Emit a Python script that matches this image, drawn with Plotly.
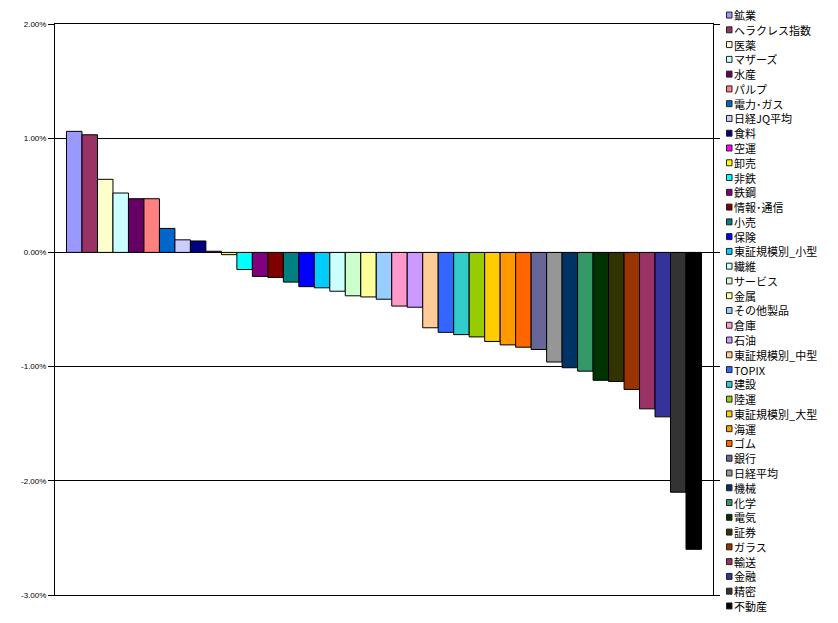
import plotly.graph_objects as go

names = ["鉱業", "ヘラクレス指数", "医薬", "マザーズ", "水産", "パルプ", "電力･ガス", "日経JQ平均",
         "食料", "空運", "卸売", "非鉄", "鉄鋼", "情報･通信", "小売", "保険", "東証規模別_小型",
         "繊維", "サービス", "金属", "その他製品", "倉庫", "石油", "東証規模別_中型", "TOPIX",
         "建設", "陸運", "東証規模別_大型", "海運", "ゴム", "銀行", "日経平均", "機械", "化学",
         "電気", "証券", "ガラス", "輸送", "金融", "精密", "不動産"]

values = [1.06, 1.03, 0.64, 0.52, 0.47, 0.47, 0.21, 0.11, 0.10, 0.01, -0.02, -0.15, -0.21,
          -0.22, -0.26, -0.30, -0.31, -0.34, -0.38, -0.39, -0.41, -0.47, -0.48, -0.66, -0.70,
          -0.72, -0.74, -0.78, -0.81, -0.83, -0.85, -0.96, -1.01, -1.04, -1.12, -1.13, -1.20,
          -1.37, -1.44, -2.10, -2.60]

colors = ["#9999FF", "#993366", "#FFFFCC", "#CCFFFF", "#660066", "#FF8080", "#0066CC", "#CCCCFF",
          "#000080", "#FF00FF", "#FFFF00", "#00FFFF", "#800080", "#800000", "#008080", "#0000FF",
          "#00CCFF", "#CCFFFF", "#CCFFCC", "#FFFF99", "#99CCFF", "#FF99CC", "#CC99FF", "#FFCC99",
          "#3366FF", "#33CCCC", "#99CC00", "#FFCC00", "#FF9900", "#FF6600", "#666699", "#969696",
          "#003366", "#339966", "#003300", "#333300", "#993300", "#993366", "#333399", "#333333",
          "#000000"]

tick_vals = [2, 1, 0, -1, -2, -3]
tick_text = ["2.00%", "1.00%", "0.00%", "-1.00%", "-2.00%", "-3.00%"]

OFF = 8  # page body margin
W, H = 838 - OFF, 623 - OFF
L, R, T, B = 55 - OFF, 713 - OFF, 21 - OFF, 595 - OFF

fig = go.Figure()
for n, v, c in zip(names, values, colors):
    fig.add_trace(go.Bar(x=[""], y=[v], name=n, marker=dict(color=c, line=dict(color="black", width=1)),
                         showlegend=False))

def px_x(p):
    return (p - OFF - L) / (R - L)

def px_y(p):
    return (B - (p - OFF)) / (B - T)

shapes = []
annotations = []
for i, (n, c) in enumerate(zip(names, colors)):
    cy = 12 + i * 14.85
    shapes.append(dict(type="rect", xref="paper", yref="paper",
                       x0=px_x(726.5), x1=px_x(732), y0=px_y(cy + 3), y1=px_y(cy - 3),
                       fillcolor=c, line=dict(color="#222222", width=1)))
    annotations.append(dict(x=px_x(733), y=px_y(cy), xref="paper", yref="paper", text=n,
                            showarrow=False, xanchor="left", yanchor="middle", borderpad=0,
                            height=14, valign="middle",
                            font=dict(family="Noto Sans CJK JP", size=11, color="black")))

fig.update_layout(
    width=W, height=H,
    margin=dict(l=L, r=W - R, t=T, b=H - B),
    paper_bgcolor="white", plot_bgcolor="white",
    barmode="group", bargap=0.035, bargroupgap=0,
    showlegend=False,
    shapes=shapes, annotations=annotations,
    xaxis=dict(showticklabels=False, showgrid=False, zeroline=False, showline=True,
               linecolor="black", linewidth=1, mirror=True, ticks=""),
    yaxis=dict(range=[-3, 2], tickvals=tick_vals, ticktext=tick_text, showgrid=True,
               gridcolor="black", gridwidth=1, zeroline=False, showline=True, linecolor="black",
               linewidth=1, mirror="ticks", ticks="outside", ticklen=6, tickcolor="black",
               tickfont=dict(family="Liberation Sans", size=8, color="black")),
)

fig.write_html("out.html")
